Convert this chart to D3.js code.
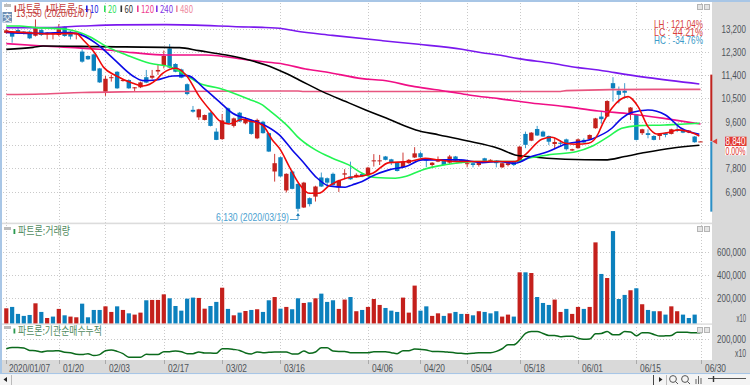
<!DOCTYPE html>
<html><head><meta charset="utf-8">
<script src="https://cdn.jsdelivr.net/npm/d3@7/dist/d3.min.js"></script>
<style>html,body{margin:0;padding:0;background:#fff;overflow:hidden}svg{display:block}</style>
</head><body><div id="c"></div>
<script>
const opens=[13030,13050,13140,13080,13080,12920,13140,12980,12980,12950,13270,13080,12980,12310,12140,12200,11660,10760,11290,11530,11180,11210,10890,10930,11320,11300,11540,11790,12430,11830,11620,11050,10060,9770,9670,9950,9220,8930,10120,9440,9950,9540,9670,8960,9600,9160,7680,8230,6950,7680,7200,6290,6650,6710,7450,7420,7590,7070,7560,7490,7460,7580,7580,8090,8090,8260,8150,8020,7850,8000,8220,8385,8150,7930,8060,8100,8020,8260,8130,7970,8000,7930,8190,8100,8100,7840,7930,8060,8100,9130,8870,9320,9220,9050,8740,8790,8920,8490,8580,8900,8920,9350,9800,9800,11090,10800,10800,9860,9860,9160,9160,9050,9050,9160,9130,9285,9285,9180,9030,8830];
const highs=[13180,13100,13220,13100,13120,13550,13190,13060,13050,13370,13290,13110,13020,12400,12160,12230,11680,11370,11410,11550,11230,11240,10940,11150,11600,11600,11790,12350,12600,11860,11650,11080,10210,10100,9880,9980,9350,9900,10150,9760,9980,9780,9700,9720,9640,9180,8360,8250,7610,7720,7230,7280,6680,7130,7640,7450,7640,7360,7770,8060,7610,7620,7860,8350,8320,8280,8170,8050,8410,8160,8620,8450,8180,8040,8260,8120,8320,8280,8150,8100,8020,8040,8210,8150,8120,8020,8020,8090,8660,9220,9200,9440,9260,9070,8990,8880,8950,8560,8950,8960,9110,9750,10000,10430,11320,10960,11090,10170,9900,9330,9310,9080,9150,9180,9330,9520,9300,9280,9050,8850];
const lows=[13000,12650,12990,12970,12790,12890,12910,12780,12780,12900,12880,12780,12780,11880,11990,11550,11100,10600,11150,10870,11150,10870,10760,10900,11090,11240,11410,11660,11660,11510,11280,10620,9950,9670,9650,9420,8890,8900,9520,9380,9590,9500,9100,8930,9140,8430,7290,7470,6870,6990,6130,6270,6330,6520,7080,7070,7140,6890,7380,7360,7440,7460,7550,7870,7930,8110,7930,7680,7830,7980,8200,8200,7850,7840,8040,7910,7970,8080,8000,7840,7840,7870,8070,8080,7840,7820,7880,7890,8020,8580,8850,9050,9010,8700,8540,8650,8490,8470,8560,8780,8900,9330,9520,9780,10380,10310,10500,9670,8880,9090,8960,8880,8900,9000,9110,9200,9160,9160,8790,8830];
const closes=[13130,12885,13010,13010,12820,13210,12950,13040,13030,13170,12910,12890,13010,11920,12010,11570,11120,11260,11320,10890,11210,10890,10930,11120,11110,11370,11600,12140,11690,11530,11300,10670,9990,10080,9860,9440,8900,9650,9540,9730,9610,9710,9130,9670,9160,8450,8000,7490,7590,7010,6240,7250,6420,7100,7100,7250,7160,7330,7610,7380,7550,7490,7830,8110,8110,8130,8020,7700,8060,8130,8380,8230,8100,8020,8130,7930,8260,8100,8020,8000,7930,8020,8090,8130,8000,8000,8000,7930,8640,8710,9180,9070,9030,8830,8820,8750,8540,8540,8920,8800,9090,9730,9700,10400,10890,10640,10720,10150,8900,9310,9090,8900,9130,9090,9310,9260,9180,9260,8810,8840];
const volumes=[114,126,66,49,57,157,83,31,43,109,54,43,37,154,37,100,100,131,83,131,100,71,60,77,183,186,186,234,200,134,94,197,206,203,111,134,169,291,109,54,77,91,100,106,83,183,211,111,126,106,200,160,166,200,240,169,183,109,189,211,89,100,126,194,143,117,94,83,206,77,309,94,131,49,71,49,71,83,66,66,54,89,83,71,89,43,60,43,423,423,417,211,160,143,189,83,109,66,126,109,126,680,409,374,777,194,229,269,286,149,100,89,89,60,131,89,60,31,60,0].map(v=>v*1000);
const volUp=[1,0,0,0,0,1,0,1,0,1,0,1,1,0,0,0,0,1,1,0,1,0,1,1,0,1,1,1,0,0,0,0,0,1,1,0,0,1,0,1,0,1,0,1,0,0,1,0,1,0,0,1,0,1,0,0,0,1,1,0,1,0,1,1,1,0,0,0,1,1,1,0,0,1,1,0,1,0,0,1,0,1,0,0,0,1,1,0,1,0,1,0,0,0,1,1,0,1,1,0,1,1,0,1,0,0,0,1,0,1,0,0,1,0,1,1,0,0,0,1];
const instCum=[100,113,113,107,83,80,67,77,77,80,63,60,43,40,50,30,40,80,87,73,50,13,13,13,43,40,40,70,70,77,70,50,50,67,57,57,53,100,100,93,83,57,47,67,60,63,67,67,67,47,47,77,53,67,110,110,77,73,73,60,60,60,60,70,70,70,60,50,80,80,97,93,87,73,73,70,63,57,53,50,53,60,60,60,73,100,140,140,190,257,277,277,257,237,237,223,227,227,207,197,200,253,257,277,243,243,277,273,233,263,263,247,230,233,237,270,270,267,263,263].map(v=>v*1000);

const ma5=[[0,13078],[3.5,13039],[7,12988],[12,13013],[13.2,12756],[15.2,12242],[16.6,11727],[18.9,11368],[21.7,11085],[23.4,10982],[25.7,11213],[26.8,11470],[29.1,11663],[30.8,11406],[33.1,10570],[35.4,9927],[36.5,9645],[38.2,9516],[40.5,9696],[41.6,9632],[43.9,9477],[45.6,8899],[47,8513],[48.5,7870],[50.2,7202],[51.9,6842],[53.6,6842],[55.3,7125],[58.2,7420],[61,7510],[62.8,7613],[65.6,8024],[69,8063],[71.8,8192],[74.1,8127],[77,8063],[81.6,8063],[84.4,8063],[87.2,8063],[88.9,8320],[91.8,8925],[93.5,9002],[95.8,8770],[97.8,8732],[99.8,8770],[101.5,9156],[102,9413],[103.8,10120],[106.6,10570],[108.3,10185],[110,9413],[111.5,9130],[113.5,9182],[115.2,9285],[116.9,9220],[118.8,9053]];
const ma10=[[0,13052],[4.6,13013],[10.3,13039],[12,13013],[15.4,12628],[18.3,12049],[21.7,11368],[23.4,11188],[25.7,11213],[28.5,11368],[31.1,11380],[33.7,10930],[36.5,10378],[38.8,9927],[41.6,9696],[44.2,9477],[46.8,9092],[49,8513],[50.8,8063],[53,7485],[55.3,7125],[58.1,7073],[59.3,7163],[61,7292],[62.8,7510],[65.6,7742],[68.5,7870],[71.3,8127],[74.1,8127],[77.6,8127],[81.6,8024],[84.4,8063],[87.2,7999],[90,8256],[92.9,8449],[95.8,8732],[100.3,8925],[103.8,9349],[105.5,9735],[107.2,9953],[110,10056],[113,9863],[115.7,9349],[118.8,9117]];
const ma20=[[0,13296],[2.3,13296],[4.6,13245],[10.3,13168],[14.3,12885],[17.2,12499],[20.6,12178],[24.6,11856],[28,11727],[30.8,11406],[33.1,11085],[36.5,10892],[41.6,10468],[43.9,10249],[45,10056],[48.5,9375],[49.9,9027],[53,8513],[55.9,8192],[58.7,7934],[61,7613],[63.3,7446],[66.7,7420],[68.4,7485],[71.3,7742],[74.1,7896],[77,7999],[80.4,8063],[84.4,8063],[87.2,8063],[89.5,8192],[92.9,8320],[97.8,8449],[100.3,8642],[103.2,9027],[105.5,9349],[108.3,9452],[112.9,9477],[116.3,9516],[118.8,9542]];
const ma60=[[0,12396],[4.6,12473],[6.3,12525],[16,12499],[29.7,12460],[33,12345],[37.7,12178],[41.6,11985],[44.5,11792],[47.9,11470],[50.2,11213],[54.2,10763],[58.2,10378],[61.6,10056],[65.6,9696],[70.2,9285],[74.2,9092],[78.7,8873],[84.4,8565],[87.2,8320],[89.5,8256],[95.8,8153],[102.6,8127],[106,8256],[109.5,8410],[114,8577],[118.8,8693]];
const ma120=[[0,12615],[6.3,12525],[16,12396],[21.7,12267],[27.4,12178],[34.2,12178],[41.6,11985],[44.5,11908],[47.4,11830],[51.3,11638],[54.8,11522],[61,11265],[64.5,11200],[70,10956],[75.8,10763],[79.3,10635],[84.4,10493],[90,10326],[95.8,10185],[101.5,10018],[107,9902],[113,9722],[119,9516]];
const ma240=[[0,13232],[6.3,13232],[13,13296],[19,13340],[27.4,13350],[41.6,13258],[43.9,13245],[47.4,13193],[49.6,13103],[55.9,12936],[64.5,12730],[70.7,12589],[78.1,12396],[81.5,12267],[84.4,12178],[87.8,12036],[93.5,11856],[98,11689],[101.5,11599],[104.3,11496],[110,11303],[118.8,11059]];
const ma480=[[0,10650],[6,10670],[13,10730],[22,10760],[42,10790],[50,10790],[51,10770],[70,10770],[84,10770],[95,10770],[96,10800],[111,10850],[119,10850]];

const priceTicks=[13200,12300,11400,10500,9600,8700,7800,6900];
const priceLabels=["13,200","12,300","11,400","10,500","9,600",null,"7,800","6,900"];
const volTicks=[600000,400000,200000];
const instTicks=[200000];
const dateIdx=[0,9,17,27,37,47,62,71,79,88,98,108,119];
const dateLabels=["2020/01/07","01/20","02/03","02/17","03/02","03/16","04/06","04/20","05/04","05/18","06/01","06/15","06/30"];
const maStyles=[[ma480,"#e8557f"],[ma240,"#7a18ee"],[ma120,"#f00f86"],[ma60,"#000000"],[ma20,"#22f552"],[ma10,"#0a0ae6"],[ma5,"#ee0a0a"]];
const legendItems=[["파트론","#c4403c",18,23],["파트론:5","#c4403c",50,33],["10","#1d1de0",90,8.5],["20","#2fe05a",108,8.5],["60","#333333",124.5,8.5],["120","#ee3d90",141,13],["240","#7f35e6",160,13],["480","#ee8aa0",180,13]];

const W=750,H=385,RED="#c4201c",BLUE="#0c80bd",AX="#4f5459",GRAY="#d9d9d9",BORDER="#a8c6e6";
const numF="'Liberation Sans',sans-serif",krF="'Noto Sans CJK KR',sans-serif";
const svg=d3.select("#c").append("svg").attr("width",W).attr("height",H);
const x=d3.scaleLinear().domain([0,119]).range([6.3,700.5]);
const yP=d3.scaleLinear().domain([13200,6900]).range([28.5,191.7]);
const yV=d3.scaleLinear().domain([600000,0]).range([251.7,321.6]);
const yI=d3.scaleLinear().domain([200000,0]).range([339,358.5]);
const idx=d3.range(closes.length);

function T(px,py,s,o={}){const a=o.anchor||"start";
  const t=svg.append("text").text(s)
    .attr("fill",o.fill||AX).attr("font-size",o.size||11).attr("font-family",o.family||numF);
  if(o.len){
    const natural=t.node().getComputedTextLength();
    const left=a==="end"?px-o.len:px;
    t.attr("transform",`translate(${left},${py}) scale(${o.len/natural},1)`);
  }else{
    t.attr("x",px).attr("y",py).attr("text-anchor",a);
  }
  return t;}
function R(a,b,w,h,f){return svg.append("rect").attr("x",a).attr("y",b).attr("width",w).attr("height",h).attr("fill",f);}
function L(a,b,c,d,s,w=1,dash){const l=svg.append("line").attr("x1",a).attr("y1",b).attr("x2",c).attr("y2",d).attr("stroke",s).attr("stroke-width",w);if(dash)l.attr("stroke-dasharray",dash);return l;}

// chrome
R(0,0,W,H,"#ffffff");
R(712,0,38,360,GRAY);
R(0,360,W,13,GRAY);
R(0,373,W,1.3,BORDER);
R(0,374.3,W,H-374.3,"#f4f4f4");
R(0,0,W,2,BORDER);
R(0,0,2,374,BORDER);

// grid
const grid=svg.append("g").attr("stroke","#c9c9c9").attr("stroke-width",1).attr("stroke-dasharray","1,2");
grid.selectAll(".gv").data(dateIdx).join("line").attr("x1",d=>Math.round(x(d))+.5).attr("x2",d=>Math.round(x(d))+.5).attr("y1",3).attr("y2",360);
grid.selectAll(".gp").data(priceTicks).join("line").attr("x1",3).attr("x2",711).attr("y1",d=>Math.round(yP(d))+.5).attr("y2",d=>Math.round(yP(d))+.5);
grid.selectAll(".gq").data(volTicks).join("line").attr("x1",3).attr("x2",711).attr("y1",d=>Math.round(yV(d))+.5).attr("y2",d=>Math.round(yV(d))+.5);
grid.selectAll(".gi").data(instTicks).join("line").attr("x1",3).attr("x2",711).attr("y1",d=>Math.round(yI(d))+.5).attr("y2",d=>Math.round(yI(d))+.5);
R(2,222.6,710,1.6,"#dcdcdc");
R(2,323.4,710,1.4,"#dcdcdc");

// candles
const cg=svg.append("g");
cg.selectAll(".w").data(idx).join("line").attr("x1",i=>x(i)).attr("x2",i=>x(i)).attr("y1",i=>yP(highs[i])).attr("y2",i=>yP(lows[i]))
  .attr("stroke",i=>closes[i]>=opens[i]?"#cf3a36":"#3f9ccb").attr("stroke-width",1);
cg.selectAll(".b").data(idx).join("rect").attr("x",i=>x(i)-2.2).attr("width",4.4)
  .attr("y",i=>yP(Math.max(opens[i],closes[i]))).attr("height",i=>Math.max(1,Math.abs(yP(opens[i])-yP(closes[i]))))
  .attr("fill",i=>closes[i]>=opens[i]?RED:BLUE);

// moving averages
const lineGen=d3.line().x(d=>x(d[0])).y(d=>yP(d[1])).curve(d3.curveMonotoneX);
maStyles.forEach(([d,c])=>svg.append("path").attr("d",lineGen(d)).attr("fill","none").attr("stroke",c).attr("stroke-width",1.6));

// volume
svg.append("g").selectAll("rect").data(idx.filter(i=>volumes[i]>0)).join("rect")
  .attr("x",i=>x(i)-2.1).attr("width",4.2).attr("y",i=>yV(volumes[i])).attr("height",i=>323.4-yV(volumes[i]))
  .attr("fill",i=>volUp[i]?RED:BLUE);

// institutional line
svg.append("path").attr("d",d3.line().x((d,i)=>x(i)).y(d=>yI(d)).curve(d3.curveMonotoneX)(instCum))
  .attr("fill","none").attr("stroke","#0b6a1c").attr("stroke-width",1.5);

// price axis
priceTicks.forEach((p,i)=>{if(priceLabels[i]){const s=priceLabels[i];T(746,yP(p)+4,s,{anchor:"end",len:s.length>5?24.5:20.5});}});
volTicks.forEach(v=>T(746,yV(v)+4,d3.format(",")(v),{anchor:"end",len:29}));
T(746,322,"x10",{anchor:"end",len:9.5});
instTicks.forEach(v=>T(746,yI(v)+4,d3.format(",")(v),{anchor:"end",len:29}));
T(746,357,"x10",{anchor:"end",len:11});

// date axis
dateIdx.forEach((d,i)=>{const tx=Math.round(x(d))+.5;
  L(tx,360,tx,364,"#aaa");
  T(i?tx+3.5:9,371.5,dateLabels[i],{fill:"#4f5459",len:i?21:41});});

// right range bars + current price
const last=closes[closes.length-1];
R(710.3,yP(11400)-.5,2,yP(last)-yP(11400),"#c02420");
R(710.3,yP(last),2,yP(6130)-yP(last),"#2a8fc6");
svg.append("path").attr("d",d3.symbol(d3.symbolTriangle,14)()).attr("fill","#e0403a").attr("transform",`translate(715.5,${yP(last)}) rotate(-90)`);
R(725,136.7,21.5,9.3,"#e23a34");
T(745.5,145.2,d3.format(",")(last),{fill:"#fff",anchor:"end",len:20,size:10});
R(725,146.2,21.5,9,"#ffffff");
T(745.5,154.6,"0.00%",{fill:"#e0302a",anchor:"end",len:20,size:10});

// statistics
T(703,27.5,"LH : 121.04%",{fill:"#d8413c",anchor:"end",len:49,size:10});
T(703,35.5,"LC :  44.21%",{fill:"#d8413c",anchor:"end",len:49,size:10});
T(703,43.5,"HC : -34.76%",{fill:"#3a9ac8",anchor:"end",len:49,size:10});

// extreme annotations
T(16,17,"13,550 (2020/01/07)",{fill:"#c4403c",len:76,size:11});
T(216,220.5,"6,130 (2020/03/19)",{fill:"#4c9fd0",len:73,size:11});
svg.append("path").attr("d","M290,219.5H298V214").attr("fill","none").attr("stroke","#4c9fd0");
svg.append("path").attr("d","M296,216L298,213L300,216Z").attr("fill","#1f7fb8");

// legends
legendItems.forEach(([s,c,px,len],i)=>{
  R(px-(i<2?3.5:4),5.5,1.6,6.5,c);
  T(px,13,s,{fill:c,size:11,family:krF,len});
});
R(13.5,229,1.8,5,"#2a9a50");
T(18,235,"파트론:거래량",{fill:"#4f8a5e",size:11,family:krF,len:52});
R(13.5,328.5,1.8,5,"#2a9a50");
T(18,334.5,"파트론:기관순매수누적",{fill:"#4f8a5e",size:11,family:krF,len:84});

// small widgets
R(4,4,7,3,"#bdbdbd");
R(4,227,7,3,"#bdbdbd");
R(4,326,7,3,"#bdbdbd");
R(2.5,12,9.5,10.5,"#6f8fb4");
T(7.2,20.5,"交",{fill:"#fff",size:9,anchor:"middle",family:"'Noto Sans CJK SC',sans-serif"});
[[697,4],[704,4],[697,226],[704,226],[697,327],[704,327]].forEach(([a,b])=>{
  svg.append("rect").attr("x",a+.5).attr("y",b+.5).attr("width",5).attr("height",5).attr("fill","#e4e4e4").attr("stroke","#b5b5b5");
});

// bottom toolbar
svg.append("path").attr("d","M7,377V382L3.5,379.5Z").attr("fill","#222");
L(11.5,375,11.5,385,"#bbb");
L(653.5,375,653.5,385,"#444");
svg.append("path").attr("d","M659,377V382L662.5,379.5Z").attr("fill","#222");
L(666.5,375,666.5,385,"#bbb");
[673,685].forEach(c=>{svg.append("circle").attr("cx",c).attr("cy",379).attr("r",3.4).attr("fill","none").attr("stroke","#555");
  L(c+2.5,381.5,c+5,384,"#555");});
[696,698.5,701].forEach((a,i)=>L(a,[379,376,378][i],a,384,"#666"));
L(708,378.5,746,378.5,"#555");
L(713.5,376,713.5,382,"#333",1.4);
</script></body></html>
